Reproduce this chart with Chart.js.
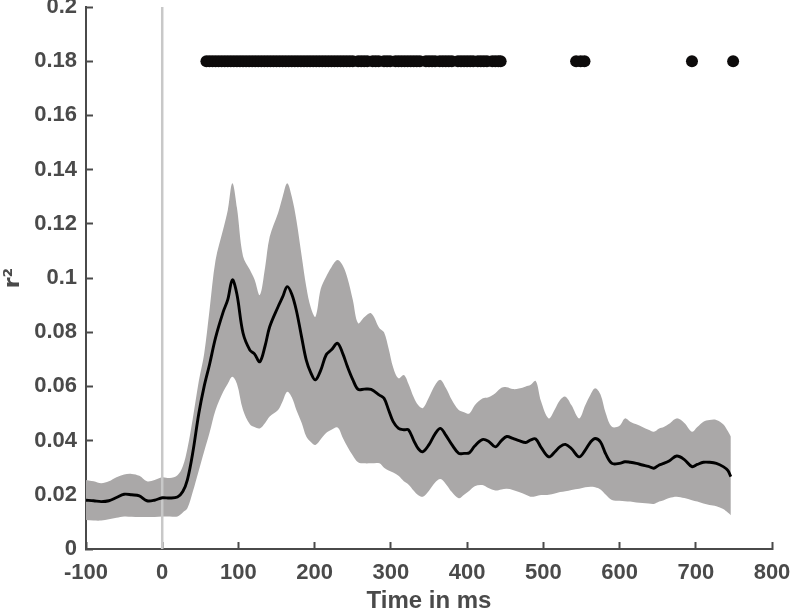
<!DOCTYPE html>
<html>
<head>
<meta charset="utf-8">
<script src="https://cdn.jsdelivr.net/npm/chart.js@4.4.1/dist/chart.umd.min.js"></script>
<style>
  html, body { margin: 0; padding: 0; background: #ffffff; }
  #wrap { width: 790px; height: 611px; position: relative; }
</style>
</head>
<body>
<div id="wrap"><canvas id="c" width="790" height="611"></canvas></div>
<script>
// ---- data ----
const times = [-100,-90,-80,-70,-60,-50,-40,-30,-20,-10,0,10,20,27,33,40,48,55,62,70,80,86,92,98,106,115,121,128,135,141,152,158,164,170,176,183,189,195,201,208,215,222,230,237,243,250,257,265,274,285,291,297,303,310,317,323,330,336,342,350,358,365,372,380,389,396,403,410,420,428,437,445,452,460,468,477,483,490,497,507,515,522,529,537,547,555,562,568,575,582,590,600,607,614,622,630,638,645,652,658,665,675,685,695,702,710,718,727,736,742,746];
const meanR2 = [0.0180,0.0178,0.0175,0.0178,0.0190,0.0202,0.0200,0.0196,0.0178,0.0180,0.0189,0.0188,0.0192,0.0212,0.0255,0.0354,0.0500,0.0600,0.0680,0.0780,0.0875,0.0920,0.0993,0.0940,0.0797,0.0734,0.0720,0.0691,0.0750,0.0820,0.0894,0.0930,0.0968,0.0940,0.0880,0.0780,0.0697,0.0650,0.0624,0.0660,0.0716,0.0735,0.0759,0.0720,0.0673,0.0625,0.0589,0.0590,0.0589,0.0568,0.0556,0.0513,0.0470,0.0445,0.0440,0.0440,0.0400,0.0370,0.0359,0.0385,0.0425,0.0445,0.0420,0.0385,0.0353,0.0353,0.0355,0.0380,0.0404,0.0398,0.0377,0.0400,0.0415,0.0408,0.0400,0.0393,0.0402,0.0406,0.0375,0.0340,0.0358,0.0378,0.0386,0.0370,0.0340,0.0365,0.0395,0.0408,0.0395,0.0350,0.0316,0.0316,0.0322,0.0320,0.0316,0.0310,0.0305,0.0298,0.0310,0.0316,0.0325,0.0343,0.0330,0.0304,0.0312,0.0320,0.0320,0.0316,0.0304,0.0290,0.0267];
const upperR2 = [0.0255,0.0250,0.0243,0.0250,0.0265,0.0275,0.0277,0.0270,0.0250,0.0255,0.0265,0.0262,0.0272,0.0305,0.0370,0.0480,0.0620,0.0720,0.0880,0.1066,0.1180,0.1250,0.1350,0.1260,0.1080,0.1030,0.0995,0.0937,0.1040,0.1152,0.1240,0.1300,0.1350,0.1300,0.1214,0.1080,0.0968,0.0890,0.0857,0.0960,0.1005,0.1040,0.1066,0.1045,0.1000,0.0920,0.0833,0.0855,0.0870,0.0815,0.0800,0.0740,0.0670,0.0630,0.0642,0.0610,0.0560,0.0530,0.0520,0.0560,0.0605,0.0624,0.0595,0.0550,0.0513,0.0505,0.0500,0.0530,0.0555,0.0560,0.0575,0.0595,0.0597,0.0590,0.0592,0.0600,0.0605,0.0620,0.0545,0.0482,0.0515,0.0550,0.0562,0.0530,0.0482,0.0530,0.0570,0.0593,0.0570,0.0500,0.0451,0.0455,0.0482,0.0470,0.0460,0.0450,0.0440,0.0433,0.0445,0.0450,0.0462,0.0482,0.0465,0.0433,0.0450,0.0470,0.0476,0.0476,0.0460,0.0435,0.0415];
const lowerR2 = [0.0107,0.0105,0.0105,0.0110,0.0115,0.0120,0.0119,0.0118,0.0118,0.0118,0.0120,0.0120,0.0120,0.0135,0.0150,0.0210,0.0290,0.0360,0.0428,0.0513,0.0580,0.0610,0.0636,0.0610,0.0513,0.0460,0.0450,0.0445,0.0465,0.0489,0.0513,0.0545,0.0580,0.0560,0.0513,0.0465,0.0415,0.0395,0.0384,0.0405,0.0428,0.0440,0.0448,0.0410,0.0377,0.0345,0.0320,0.0316,0.0316,0.0316,0.0300,0.0290,0.0282,0.0270,0.0250,0.0238,0.0215,0.0198,0.0193,0.0215,0.0245,0.0258,0.0240,0.0210,0.0187,0.0200,0.0215,0.0232,0.0236,0.0225,0.0216,0.0220,0.0222,0.0218,0.0210,0.0200,0.0193,0.0195,0.0199,0.0200,0.0205,0.0210,0.0213,0.0218,0.0222,0.0228,0.0230,0.0228,0.0220,0.0200,0.0181,0.0178,0.0176,0.0175,0.0172,0.0170,0.0168,0.0166,0.0175,0.0180,0.0188,0.0193,0.0188,0.0180,0.0175,0.0168,0.0162,0.0158,0.0148,0.0135,0.0125];
// time points marked significant (dots drawn at r2 = 0.18)
const sigTimes = [58,62,66,70,74,78,82,86,90,94,98,102,106,110,114,118,122,126,130,134,138,142,146,150,154,158,162,166,170,174,178,182,186,190,194,198,202,206,210,214,218,222,226,230,234,238,242,246,250,
  257,261,265,269,276,280,284,291,295,299,306,310,314,318,322,326,330,334,338,346,350,354,358,364,368,372,376,380,388,392,396,400,404,408,414,418,422,426,433,437,441,444,
  543,549,554,695,749];
const sigLevel = 0.18;
const stimOnset = [0, 0];
const stimOnsetY = [0, 0.2];
const xTicks = [-100,0,100,200,300,400,500,600,700,800];
const yTicks = [0,0.02,0.04,0.06,0.08,0.1,0.12,0.14,0.16,0.18,0.2];
const yTickLabels = ['0','0.02','0.04','0.06','0.08','0.1','0.12','0.14','0.16','0.18','0.2'];

// ---- chart ----
const axisColor = '#4a4a4a';
const family = "'Liberation Sans', Arial, Helvetica, sans-serif";
const tickFont = { family: family, weight: 'bold', size: 22 };
const titleFont = { family: family, weight: 'bold', size: 24, lineHeight: 0.8 };
const pts = (xs, ys) => xs.map((x, i) => ({ x: x, y: ys[i] }));

new Chart(document.getElementById('c'), {
  type: 'line',
  data: {
    datasets: [
      { label: 'mean', data: pts(times, meanR2), borderColor: '#000000', borderWidth: 2.9,
        pointRadius: 0, tension: 0.35, fill: false, order: 0 },
      { label: 'sig', data: sigTimes.map(t => ({ x: t, y: sigLevel })), showLine: false,
        pointRadius: 6, pointBackgroundColor: '#0d0b0b', pointBorderWidth: 0, order: 1 },
      { label: 'onset', data: pts(stimOnset, stimOnsetY), borderColor: '#c8c8c8', borderWidth: 2.5,
        pointRadius: 0, fill: false, order: 2 },
      { label: 'upper', data: pts(times, upperR2), borderColor: 'rgba(0,0,0,0)', borderWidth: 0,
        pointRadius: 0, tension: 0.35, fill: '+1', backgroundColor: '#aaa8a8', order: 3 },
      { label: 'lower', data: pts(times, lowerR2), borderColor: 'rgba(0,0,0,0)', borderWidth: 0,
        pointRadius: 0, tension: 0.35, fill: false, order: 4 }
    ]
  },
  options: {
    responsive: false,
    animation: false,
    events: [],
    layout: { padding: { top: 7, right: 18, left: 0, bottom: 0 } },
    plugins: { legend: { display: false }, tooltip: { enabled: false } },
    scales: {
      x: {
        type: 'linear', min: -100, max: 800,
        afterBuildTicks: s => { s.ticks = xTicks.map(v => ({ value: v })); },
        afterFit: s => { s.height = 62; s.paddingLeft = 0; s.paddingRight = 0; },
        ticks: { color: axisColor, font: tickFont, padding: 18, maxRotation: 0, autoSkip: false,
                 callback: v => String(v) },
        grid: { drawOnChartArea: false, tickLength: -7, tickWidth: 2, tickColor: axisColor },
        border: { display: true, color: axisColor, width: 2 },
        title: { display: true, text: 'Time in ms', color: axisColor, font: titleFont,
                 padding: { top: 0, bottom: 0 } }
      },
      y: {
        type: 'linear', min: 0, max: 0.2,
        afterBuildTicks: s => { s.ticks = yTicks.map(v => ({ value: v })); },
        afterFit: s => { s.width = 86; s.paddingTop = 0; s.paddingBottom = 0; },
        ticks: { color: axisColor, font: tickFont, padding: 16, autoSkip: false,
                 callback: (v, i) => yTickLabels[i] },
        grid: { drawOnChartArea: false, tickLength: -7, tickWidth: 2, tickColor: axisColor },
        border: { display: true, color: axisColor, width: 2 },
        title: { display: true, text: 'r²', color: axisColor,
                 font: { family: "'DejaVu Sans', 'Liberation Sans', Arial, sans-serif", weight: 'bold', size: 22, lineHeight: 0.8 },
                 padding: { top: 4, bottom: 0 } }
      }
    }
  }
});
</script>
</body>
</html>
